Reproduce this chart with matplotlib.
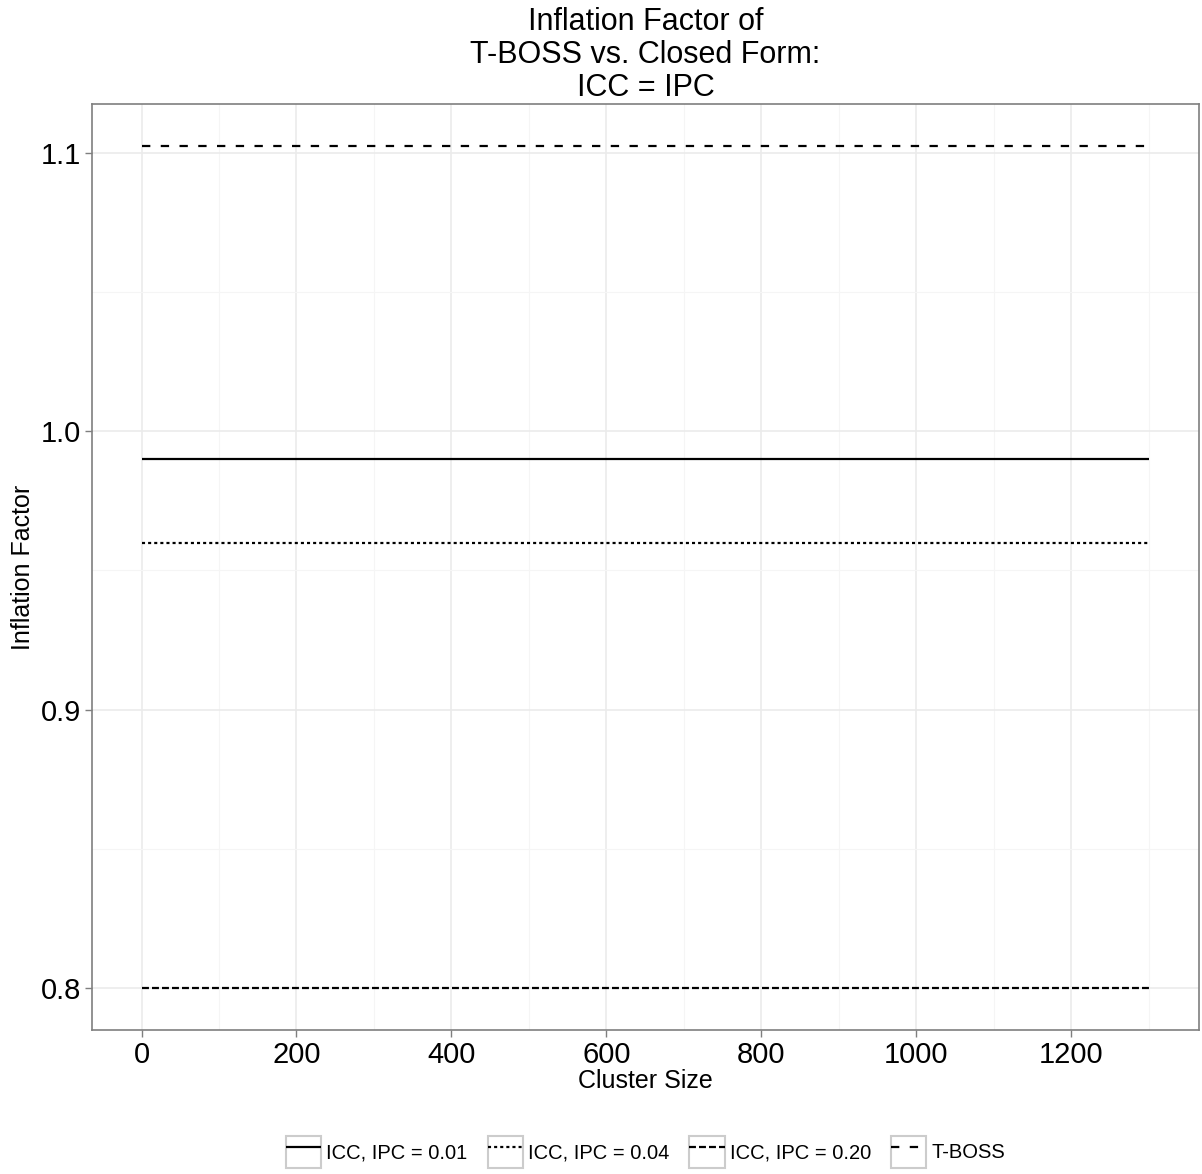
import matplotlib
matplotlib.use("Agg")
import matplotlib.pyplot as plt
from matplotlib.patches import Rectangle
from matplotlib.legend_handler import HandlerTuple
from matplotlib.ticker import MultipleLocator

plt.rcParams['font.family'] = ['Liberation Sans', 'DejaVu Sans']
plt.rcParams['lines.scale_dashes'] = False

# data
cluster_size = [1, 100, 200, 300, 400, 500, 600, 700, 800, 900, 1000, 1100, 1200, 1300]
series_names = ["ICC, IPC = 0.01", "ICC, IPC = 0.04", "ICC, IPC = 0.20", "T-BOSS"]
series_values = [0.99, 0.96, 0.80, 1.1025]
dash_styles = [None, (2.2, 2.2), (5.0, 2.2), (6.0, 7.5)]

fig = plt.figure(figsize=(12.02, 11.74), dpi=100)
ax = fig.add_axes([92 / 1202, 1 - 1030 / 1174, (1199 - 92) / 1202, (1030 - 104) / 1174])

handles = []
for name, val, ds in zip(series_names, series_values, dash_styles):
    ln, = ax.plot(cluster_size, [val] * len(cluster_size), color="black", lw=1.6,
                  solid_capstyle="butt", dash_capstyle="butt", label=name)
    if ds is not None:
        ln.set_dashes(ds)
    box = Rectangle((0, 0), 1, 1, facecolor="white", edgecolor="#cccccc", lw=1.5)
    handles.append((box, ln))

ax.margins(x=0.05, y=0.05)
ax.xaxis.set_major_locator(MultipleLocator(200))
ax.xaxis.set_minor_locator(MultipleLocator(100))
ax.yaxis.set_major_locator(MultipleLocator(0.1))
ax.yaxis.set_minor_locator(MultipleLocator(0.05))
ax.yaxis.set_major_formatter(plt.FuncFormatter(lambda v, p: f"{v:.1f}"))

ax.grid(which="major", color="#ebebeb", lw=1.2)
ax.grid(which="minor", color="#f5f5f5", lw=0.8)
ax.set_axisbelow(True)
for s in ax.spines.values():
    s.set_color("#7f7f7f")
    s.set_linewidth(1.2)

ax.tick_params(which="major", length=5, width=1, color="#7f7f7f", labelsize=21, pad=3)
ax.tick_params(which="minor", length=0)

ax.set_xlabel("Cluster Size", fontsize=18, labelpad=0)
ax.set_ylabel("Inflation Factor", fontsize=18, labelpad=4)
ax.set_title("Inflation Factor of\nT-BOSS vs. Closed Form:\nICC = IPC", fontsize=22,
             linespacing=1.12, pad=6)

# legend centred under the panel, like ggplot
fig.legend(handles, series_names, handler_map={tuple: HandlerTuple(ndivide=1)},
           loc="center", bbox_to_anchor=(645.5 / 1202, 1 - 1152 / 1174), ncol=4,
           frameon=False, fontsize=14.5, handlelength=1.75, handleheight=2.0,
           handletextpad=0.25, columnspacing=1.0)

fig.savefig("out.png", dpi=100)
